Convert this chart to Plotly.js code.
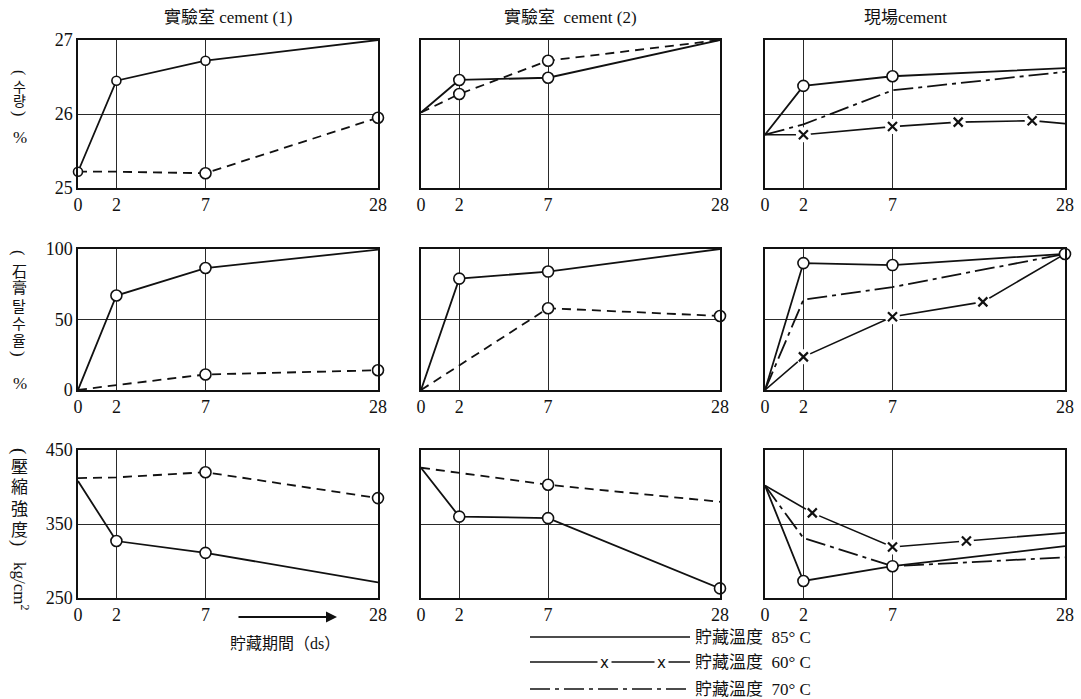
<!DOCTYPE html>
<html>
<head>
<meta charset="utf-8">
<script src="https://cdn.plot.ly/plotly-3.0.1.min.js"></script>
<style>html,body{margin:0;padding:0;background:#fff;}#chart{width:1081px;height:699px;}</style>
</head>
<body>
<div id="chart"></div>
<script>
// ---------------- DATA ----------------
const columnTitles = ["實驗室 cement (1)", "實驗室  cement (2)", "現場cement"];
const xTickDays = [0, 2, 7, 28];
const xTickText = ["0", "2", "7", "28"];
const row1Ticks = [25, 26, 27];
const row2Ticks = [0, 50, 100];
const row3Ticks = [250, 350, 450];

// Row 1 : 수량 (%)
const r1c1_85_days = [0, 2, 7, 28];   const r1c1_85 = [25.22, 26.45, 26.72, 27.0];
const r1c1_70_days = [0, 2, 7, 28];   const r1c1_70 = [25.22, 25.22, 25.2, 25.95];
const r1c2_85_days = [0, 2, 7, 28];   const r1c2_85 = [26.02, 26.46, 26.49, 27.0];
const r1c2_70_days = [0, 2, 7, 28];   const r1c2_70 = [26.02, 26.27, 26.72, 27.0];
const r1c3_85_days = [0, 2, 7, 28];   const r1c3_85 = [25.72, 26.38, 26.51, 26.62];
const r1c3_60_days = [0, 2, 7, 15, 24, 28]; const r1c3_60 = [25.72, 25.72, 25.83, 25.89, 25.91, 25.87];
const r1c3_70_days = [0, 2, 7, 28];   const r1c3_70 = [25.72, 25.86, 26.32, 26.57];

// Row 2 : 石膏탈수율 (%)
const r2c1_85_days = [0, 2, 7, 28];   const r2c1_85 = [0, 67, 86.5, 99.5];
const r2c1_70_days = [0, 2, 7, 28];   const r2c1_70 = [0, 3.5, 11, 14];
const r2c2_85_days = [0, 2, 7, 28];   const r2c2_85 = [0, 79, 84, 100];
const r2c2_70_days = [0, 7, 28];      const r2c2_70 = [0, 58, 52.5];
const r2c3_85_days = [0, 2, 7, 28];   const r2c3_85 = [0, 90, 88.6, 96.5];
const r2c3_60_days = [0, 2, 7, 18, 28]; const r2c3_60 = [0, 23.5, 52, 62.5, 96.5];
const r2c3_70_days = [0, 2, 7, 28];   const r2c3_70 = [0, 64, 73, 96.5];

// Row 3 : 壓縮強度 (kg/cm²)
const r3c1_85_days = [0, 2, 7, 28];   const r3c1_85 = [408, 327, 311, 271];
const r3c1_70_days = [0, 2, 7, 28];   const r3c1_70 = [412, 413, 420, 385];
const r3c2_85_days = [0, 2, 7, 28];   const r3c2_85 = [426, 360, 358, 263];
const r3c2_70_days = [0, 7, 28];      const r3c2_70 = [426, 403, 380];
const r3c3_85_days = [0, 2, 7, 28];   const r3c3_85 = [402, 273, 293, 320];
const r3c3_60_days = [0, 2.5, 7, 16, 28]; const r3c3_60 = [402, 365, 319, 327, 338];
const r3c3_70_days = [0, 2, 7, 28];   const r3c3_70 = [402, 331, 293, 305];

// days that carry an open circle
const circled = {
  r1c1_85: [0, 2, 7], r1c1_70: [7, 28],
  r1c2_85: [2, 7], r1c2_70: [2, 7],
  r1c3_85: [2, 7],
  r2c1_85: [2, 7], r2c1_70: [7, 28],
  r2c2_85: [2, 7], r2c2_70: [7, 28],
  r2c3_85: [2, 7, 28],
  r3c1_85: [2, 7], r3c1_70: [7, 28],
  r3c2_85: [2, 7, 28], r3c2_70: [7],
  r3c3_85: [2, 7]
};

// ---------------- AXIS SCALE (non-uniform day axis) ----------------
const AX_DAYS = [0, 2, 7, 28];
const AX_FRAC = [0, 0.128, 0.425, 1];
function warp(d) {
  for (let i = 1; i < AX_DAYS.length; i++) {
    if (d <= AX_DAYS[i]) {
      const t = (d - AX_DAYS[i - 1]) / (AX_DAYS[i] - AX_DAYS[i - 1]);
      return 28 * (AX_FRAC[i - 1] + t * (AX_FRAC[i] - AX_FRAC[i - 1]));
    }
  }
  return 28;
}

// ---------------- LAYOUT GEOMETRY ----------------
const W = 1081, H = 699;
const colPx = [[78, 378], [421, 720], [765, 1065]];
const rowPx = [[40, 188], [249, 390], [450, 598]];
const px = x => x / W;
const py = y => 1 - y / H;

const SERIF = "Liberation Serif, DejaVu Serif, serif";
const CJK = "Liberation Serif, Noto Sans CJK TC, Noto Sans CJK KR, serif";

const traces = [];
const layout = {
  width: W, height: H,
  margin: {l: 0, r: 0, t: 0, b: 0},
  paper_bgcolor: "#fff", plot_bgcolor: "#fff",
  showlegend: false,
  annotations: [], shapes: []
};
function note(o) {
  layout.annotations.push(Object.assign({xref: "paper", yref: "paper", showarrow: false,
    xanchor: "center", yanchor: "middle"}, o));
}

const rowTicks = [row1Ticks, row2Ticks, row3Ticks];
const panels = [
  [ {s85:[r1c1_85_days,r1c1_85,"r1c1_85"], s70:[r1c1_70_days,r1c1_70,"r1c1_70"]},
    {s85:[r1c2_85_days,r1c2_85,"r1c2_85"], s70:[r1c2_70_days,r1c2_70,"r1c2_70"]},
    {s85:[r1c3_85_days,r1c3_85,"r1c3_85"], s60:[r1c3_60_days,r1c3_60], s70:[r1c3_70_days,r1c3_70,"r1c3_70"], field:true} ],
  [ {s85:[r2c1_85_days,r2c1_85,"r2c1_85"], s70:[r2c1_70_days,r2c1_70,"r2c1_70"]},
    {s85:[r2c2_85_days,r2c2_85,"r2c2_85"], s70:[r2c2_70_days,r2c2_70,"r2c2_70"]},
    {s85:[r2c3_85_days,r2c3_85,"r2c3_85"], s60:[r2c3_60_days,r2c3_60], s70:[r2c3_70_days,r2c3_70,"r2c3_70"], field:true} ],
  [ {s85:[r3c1_85_days,r3c1_85,"r3c1_85"], s70:[r3c1_70_days,r3c1_70,"r3c1_70"]},
    {s85:[r3c2_85_days,r3c2_85,"r3c2_85"], s70:[r3c2_70_days,r3c2_70,"r3c2_70"]},
    {s85:[r3c3_85_days,r3c3_85,"r3c3_85"], s60:[r3c3_60_days,r3c3_60], s70:[r3c3_70_days,r3c3_70,"r3c3_70"], field:true} ]
];

let k = 0;
for (let r = 0; r < 3; r++) {
  for (let c = 0; c < 3; c++) {
    k++;
    const xa = k === 1 ? "x" : "x" + k;
    const ya = k === 1 ? "y" : "y" + k;
    const xKey = k === 1 ? "xaxis" : "xaxis" + k;
    const yKey = k === 1 ? "yaxis" : "yaxis" + k;
    const ticks = rowTicks[r];
    layout[xKey] = {
      domain: [px(colPx[c][0]), px(colPx[c][1])],
      anchor: ya, range: [0, 28], fixedrange: true,
      tickvals: xTickDays.map(warp), ticktext: xTickText,
      showgrid: true, gridcolor: "#2a2a2a", gridwidth: 1,
      zeroline: false, showline: true, mirror: true,
      linecolor: "#111", linewidth: 1.6,
      ticks: "", tickfont: {family: SERIF, size: 18, color: "#111"}
    };
    layout[yKey] = {
      domain: [py(rowPx[r][1]), py(rowPx[r][0])],
      anchor: xa, range: [ticks[0], ticks[2]], fixedrange: true,
      tickvals: ticks, showticklabels: c === 0,
      showgrid: true, gridcolor: "#2a2a2a", gridwidth: 1,
      zeroline: false, showline: true, mirror: true,
      linecolor: "#111", linewidth: 1.6,
      ticks: "", tickfont: {family: SERIF, size: 18, color: "#111"}
    };
    const p = panels[r][c];
    // 70 C line
    const d70 = p.s70;
    traces.push({
      x: d70[0].map(warp), y: d70[1], xaxis: xa, yaxis: ya,
      mode: "lines", cliponaxis: false,
      line: {color: "#111", width: 1.8, dash: p.field ? "20px,5px,4px,5px" : "9px,6px"}
    });
    // 60 C line with x marks
    if (p.s60) {
      const d60 = p.s60;
      traces.push({
        x: d60[0].map(warp), y: d60[1], xaxis: xa, yaxis: ya,
        mode: "lines", line: {color: "#111", width: 1.6}
      });
      const xs = [], ys = [];
      d60[0].forEach((d, i) => { if (d > 0 && d < 28) { xs.push(warp(d)); ys.push(d60[1][i]); } });
      traces.push({x: xs, y: ys, xaxis: xa, yaxis: ya, mode: "markers",
        marker: {symbol: "circle", size: 15, color: "#fff", line: {width: 0}}});
      traces.push({x: xs, y: ys, xaxis: xa, yaxis: ya, mode: "markers",
        marker: {symbol: "x-thin-open", size: 9, color: "#111", line: {width: 2.2, color: "#111"}}});
    }
    // 85 C line
    const d85 = p.s85;
    traces.push({
      x: d85[0].map(warp), y: d85[1], xaxis: xa, yaxis: ya,
      mode: "lines", cliponaxis: false,
      line: {color: "#111", width: 1.8}
    });
    // open circles
    [d85, d70].forEach(s => {
      const marks = circled[s[2]] || [];
      const xs = [], ys = [];
      s[0].forEach((d, i) => { if (marks.includes(d)) { xs.push(warp(d)); ys.push(s[1][i]); } });
      if (xs.length) traces.push({
        x: xs, y: ys, xaxis: xa, yaxis: ya, mode: "markers", cliponaxis: false,
        marker: {symbol: "circle", size: (s[2] === "r1c1_85") ? 9 : 11, color: "#fff", line: {color: "#111", width: 1.6}}
      });
    });
  }
}

// column titles
columnTitles.forEach((t, c) => {
  note({x: px((colPx[c][0] + colPx[c][1]) / 2 - (c === 2 ? 10 : 0)), y: py(18),
    text: t, font: {family: CJK, size: 17, color: "#111"}});
});

// vertical y labels: characters stacked, parentheses turned
const yLabels = [
  {chars: ["(", "수", "량", ")"], ys: [72, 86, 100, 113], size: 14, pct: 137},
  {chars: ["(", "石", "膏", "탈", "수", "율", ")"], ys: [253, 270, 287, 305, 322, 339, 354], size: 15, pct: 383},
  {chars: ["(", "壓", "縮", "強", "度", ")"], ys: [451, 465, 486, 507, 528, 543], size: 17, pct: null}
];
yLabels.forEach(l => {
  l.chars.forEach((ch, i) => {
    const paren = ch === "(" || ch === ")";
    note({x: px(19), y: py(l.ys[i]), text: ch, textangle: paren ? 90 : 0,
      font: {family: paren ? SERIF : "Noto Sans CJK KR", size: l.size + (paren ? 2 : 0), color: "#111"}});
  });
  if (l.pct) note({x: px(20), y: py(l.pct), text: "%",
    font: {family: SERIF, size: 17, color: "#111"}});
});
note({x: px(21), y: py(586), text: "kg/cm<sup>2</sup>",
  textangle: 90, font: {family: SERIF, size: 17, color: "#111"}});

// x label with arrow
note({x: px(337), y: py(617), text: "",
  showarrow: true, ax: -100, ay: 0, arrowhead: 2, arrowsize: 1, arrowwidth: 2.2, arrowcolor: "#111"});
note({x: px(285), y: py(643), text: "貯藏期間（ds）",
  font: {family: CJK, size: 16, color: "#111"}});

// legend (drawn by hand)
const legendRows = [
  {y: 637, label: "貯藏溫度  85° C", dash: "solid", xmarks: []},
  {y: 662, label: "貯藏溫度  60° C", dash: "solid", xmarks: [604, 661]},
  {y: 689, label: "貯藏溫度  70° C", dash: "20px,5px,4px,5px", xmarks: []}
];
legendRows.forEach(l => {
  layout.shapes.push({type: "line", xref: "paper", yref: "paper", x0: px(530), x1: px(690), y0: py(l.y), y1: py(l.y),
    line: {color: "#111", width: 1.5, dash: l.dash}});
  l.xmarks.forEach(xm => note({x: px(xm), y: py(l.y + 1),
    text: "x", bgcolor: "#fff", borderpad: 2, font: {family: "DejaVu Sans", size: 15, color: "#111"}}));
  note({x: px(693), y: py(l.y), xanchor: "left",
    text: l.label, font: {family: CJK, size: 17, color: "#111"}});
});

Plotly.newPlot("chart", traces, layout, {staticPlot: true, displayModeBar: false});
</script>
</body>
</html>
